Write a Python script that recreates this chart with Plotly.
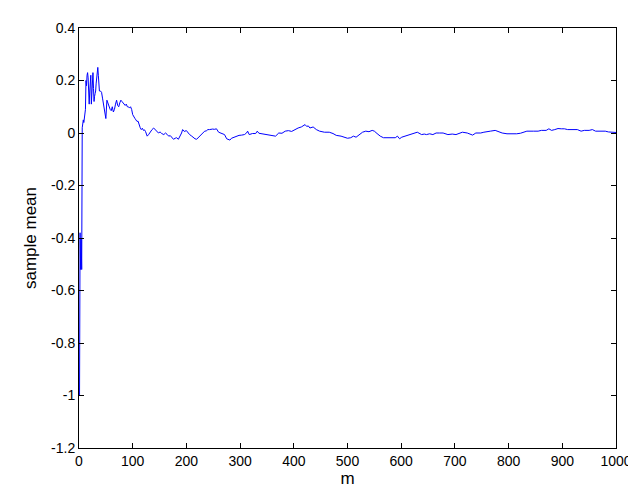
import plotly.graph_objects as go

m_vals = [1, 2, 3, 4, 5, 6, 7, 8, 9, 10, 11, 12, 13, 14, 15, 16, 17, 18, 19, 20,
          21, 22, 23, 24, 25, 26, 27, 28, 29, 30, 31, 32, 33, 34, 35, 36, 37, 38,
          40, 42, 44, 46, 48, 50, 52, 54, 56, 58, 60, 62, 64, 66, 68, 70, 72, 74,
          76, 78, 80, 82, 84, 86, 88, 90, 92, 94, 96, 98, 100, 102, 104, 106, 108,
          110, 112, 114, 116, 118, 120, 122, 124, 127, 130, 133, 136, 139, 142,
          145, 148, 151, 154, 158, 161, 164, 167, 170, 173, 176, 179, 182, 185,
          188, 191, 193, 196, 200, 203, 206, 210, 213, 216, 219, 222, 225, 228,
          231, 234, 237, 240, 243, 246, 249, 252, 256, 260, 265, 268, 271, 275,
          278, 281, 284, 287, 292, 298, 303, 308, 312, 314, 317, 323, 329, 332,
          335, 341, 350, 360, 366, 372, 378, 384, 390, 396, 402, 408, 414, 418,
          421, 424, 427, 430, 436, 442, 448, 457, 466, 473, 479, 488, 494, 500,
          506, 511, 516, 522, 528, 534, 540, 546, 550, 555, 561, 567, 575, 580,
          589, 593, 597, 601, 607, 616, 623, 630, 638, 643, 647, 653, 659, 665,
          671, 678, 687, 695, 702, 708, 714, 723, 733, 739, 748, 754, 760, 766,
          775, 781, 788, 797, 809, 815, 822, 834, 846, 855, 861, 870, 875, 880,
          886, 892, 898, 904, 910, 922, 928, 935, 941, 950, 956, 962, 971, 980,
          986, 996, 1000]

sample_mean = [-1.0, -0.38, -0.52, -0.40, -0.52, 0.02, 0.03, 0.05, 0.04, 0.07, 0.08,
               0.09, 0.20, 0.18, 0.22, 0.23, 0.21, 0.15, 0.11, 0.16, 0.20, 0.22,
               0.11, 0.17, 0.21, 0.23, 0.17, 0.12, 0.14, 0.15, 0.16, 0.19, 0.21,
               0.23, 0.25, 0.22, 0.18, 0.16, 0.16, 0.155, 0.13, 0.10, 0.085, 0.055,
               0.125, 0.11, 0.105, 0.09, 0.085, 0.10, 0.08, 0.09, 0.11, 0.125,
               0.105, 0.10, 0.115, 0.125, 0.12, 0.115, 0.11, 0.105, 0.11, 0.10,
               0.10, 0.095, 0.10, 0.09, 0.07, 0.065, 0.056, 0.05, 0.044, 0.045,
               0.03, 0.02, 0.013, 0.018, 0.01, 0.012, 0.005, -0.012, -0.005, 0.007,
               0.013, 0.019, 0.012, 0.005, 0.0, 0.004, -0.002, -0.006, 0.0, -0.005,
               -0.012, -0.01, -0.018, -0.024, -0.02, -0.018, -0.024, -0.014, 0.0,
               0.013, 0.006, 0.009, 0.0, -0.006, -0.012, -0.018, -0.022, -0.024,
               -0.018, -0.012, -0.006, 0.0, 0.007, 0.008, 0.013, 0.013, 0.015,
               0.015, 0.014, 0.016, 0.003, 0.0, -0.003, -0.006, -0.022, -0.026,
               -0.027, -0.02, -0.018, -0.012, -0.009, -0.008, -0.006, 0.0, 0.007,
               -0.006, -0.002, -0.002, 0.007, -0.001, -0.003, -0.006, -0.009,
               -0.012, 0.0, -0.001, 0.007, 0.009, 0.006, 0.013, 0.019, 0.023,
               0.028, 0.032, 0.025, 0.027, 0.019, 0.023, 0.013, 0.007, 0.003,
               0.003, -0.002, -0.009, -0.012, -0.016, -0.02, -0.018, -0.012,
               -0.016, -0.006, 0.003, 0.007, 0.005, 0.01, 0.007, -0.002, -0.012,
               -0.018, -0.017, -0.018, -0.018, -0.012, -0.022, -0.016, -0.012,
               -0.008, -0.004, 0.003, -0.006, -0.004, -0.006, -0.003, -0.006, 0.0,
               0.0, 0.0, -0.006, -0.004, -0.006, -0.001, 0.003, 0.0, -0.008, 0.0,
               0.0, 0.003, 0.004, 0.007, 0.01, 0.004, 0.0, -0.003, -0.004, -0.003,
               -0.001, 0.007, 0.007, 0.007, 0.01, 0.01, 0.016, 0.01, 0.013, 0.017,
               0.016, 0.016, 0.013, 0.013, 0.013, 0.007, 0.01, 0.01, 0.013, 0.007,
               0.007, 0.007, 0.004, 0.003, 0.002]

x_ticks = [0, 100, 200, 300, 400, 500, 600, 700, 800, 900, 1000]
x_tick_labels = ["0", "100", "200", "300", "400", "500", "600", "700", "800", "900", "1000"]
y_ticks = [0.4, 0.2, 0.0, -0.2, -0.4, -0.6, -0.8, -1.0, -1.2]
y_tick_labels = ["0.4", "0.2", "0", "-0.2", "-0.4", "-0.6", "-0.8", "-1", "-1.2"]

fig = go.Figure()
fig.add_trace(go.Scatter(x=m_vals, y=sample_mean, mode="lines",
                         line=dict(color="#0000ff", width=1), showlegend=False))

font = dict(family="Liberation Sans, Arial, sans-serif", size=14, color="black")

fig.update_layout(
    width=636, height=487,
    margin=dict(l=71, r=20, t=16, b=41),
    paper_bgcolor="white", plot_bgcolor="white",
    font=font,
    xaxis=dict(range=[0, 1000], tickvals=x_ticks, ticktext=x_tick_labels,
               showline=True, linecolor="black", linewidth=1, mirror="ticks",
               ticks="inside", ticklen=5, tickcolor="black", showgrid=False,
               zeroline=False, title=dict(text="m", standoff=2)),
    yaxis=dict(range=[-1.2, 0.4], tickvals=y_ticks, ticktext=y_tick_labels,
               showline=True, linecolor="black", linewidth=1, mirror="ticks",
               ticks="inside", ticklen=5, tickcolor="black", showgrid=False,
               zeroline=False, title=dict(text="sample mean", standoff=10)),
)

fig.write_html("out.html")
